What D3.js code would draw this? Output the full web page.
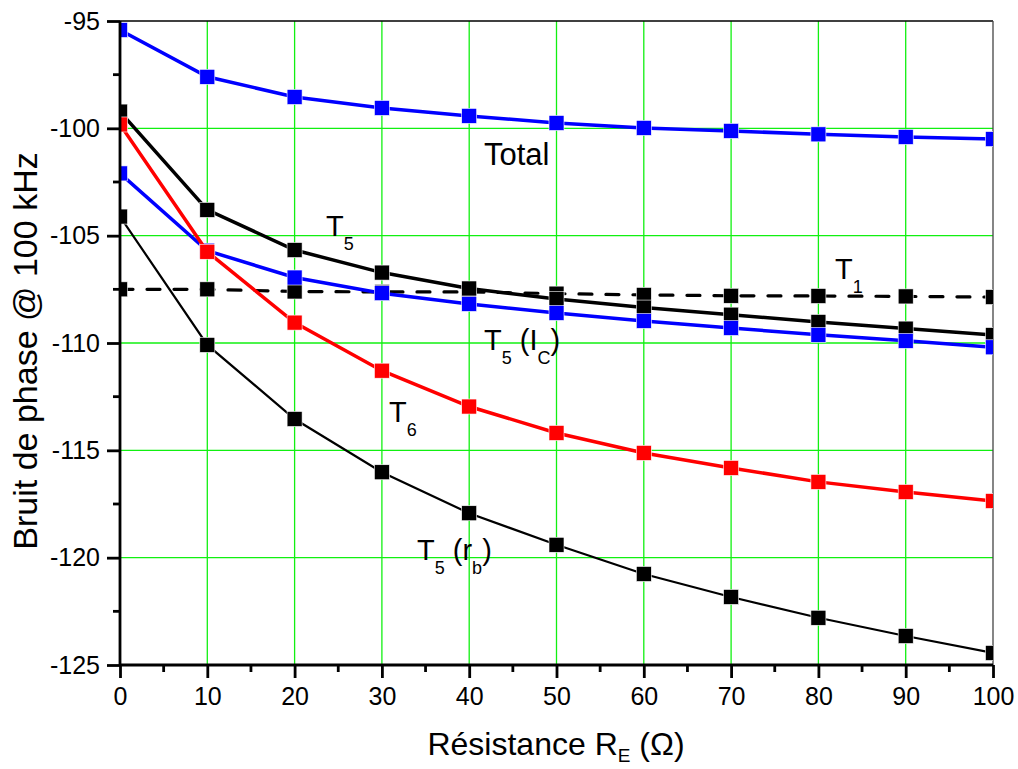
<!DOCTYPE html>
<html><head><meta charset="utf-8">
<script src="https://cdn.jsdelivr.net/npm/d3@7"></script>
<style>body{margin:0;background:#fff;} text{font-family:"Liberation Sans",Arial,sans-serif;}</style>
</head><body>
<svg id="c" width="1018" height="769"></svg>
<script>
const xs = [0,10,20,30,40,50,60,70,80,90,100];
const total = [-95.42,-97.6,-98.54,-99.05,-99.42,-99.75,-99.98,-100.12,-100.28,-100.4,-100.5];
const t5 = [-99.22,-103.8,-105.67,-106.72,-107.46,-107.95,-108.35,-108.68,-109.02,-109.33,-109.63];
const t5ic = [-102.1,-105.7,-106.95,-107.68,-108.18,-108.6,-108.97,-109.3,-109.62,-109.9,-110.2];
const t1 = [-107.5,-107.5,-107.6,-107.62,-107.62,-107.7,-107.76,-107.8,-107.81,-107.83,-107.86];
const t6 = [-99.82,-105.75,-109.05,-111.29,-112.96,-114.19,-115.12,-115.82,-116.47,-116.94,-117.36];
const t5rb = [-104.11,-110.09,-113.54,-116.02,-117.93,-119.4,-120.76,-121.83,-122.8,-123.65,-124.44];
const xTicks = [0,10,20,30,40,50,60,70,80,90,100];
const yTicks = [-95,-100,-105,-110,-115,-120,-125];

const svg = d3.select("#c");
const L=120,R=993,T=21,B=665;
const x = d3.scaleLinear().domain([0,100]).range([L,R]);
const y = d3.scaleLinear().domain([-125,-95]).range([B,T]);
const GREEN = "#11f011";

// grid
svg.append("g").selectAll("line").data(xTicks.filter(d=>d>0&&d<100)).join("line")
  .attr("x1",d=>x(d)).attr("x2",d=>x(d)).attr("y1",T).attr("y2",B)
  .attr("stroke",GREEN).attr("stroke-width",1.3);
svg.append("g").selectAll("line").data(yTicks.filter(d=>d>-125&&d<-95)).join("line")
  .attr("y1",d=>y(d)).attr("y2",d=>y(d)).attr("x1",L).attr("x2",R)
  .attr("stroke",GREEN).attr("stroke-width",1.3);
// frame top/right
svg.append("line").attr("x1",L).attr("x2",R).attr("y1",T).attr("y2",T).attr("stroke","#000").attr("stroke-width",1.3);
svg.append("line").attr("x1",R).attr("x2",R).attr("y1",T).attr("y2",B).attr("stroke","#444").attr("stroke-width",1.3);

svg.append("clipPath").attr("id","clip").append("rect").attr("x",L).attr("y",T).attr("width",R-L).attr("height",B-T);
const plot = svg.append("g").attr("clip-path","url(#clip)");

const series = [
  {v:t1, c:"#000", w:3.2, dash:"13,14"},
  {v:t5rb, c:"#000", w:2.2},
  {v:t5, c:"#000", w:3.5},
  {v:t5ic, c:"#0000ff", w:3.5},
  {v:t6, c:"#ff0000", w:3.5},
  {v:total, c:"#0000ff", w:3.5},
];
const line = d3.line().x((d,i)=>x(xs[i])).y(d=>y(d));
const ms = 15;
series.forEach(s=>{
  plot.append("path").attr("d",line(s.v)).attr("fill","none").attr("stroke",s.c)
    .attr("stroke-width",s.w).attr("stroke-dasharray",s.dash||null).attr("stroke-linecap","round");
  plot.append("g").selectAll("rect").data(s.v).join("rect")
    .attr("x",(d,i)=>x(xs[i])-ms/2).attr("y",d=>y(d)-ms/2).attr("width",ms).attr("height",ms)
    .attr("fill",s.c).attr("stroke","#fff").attr("stroke-width",0.6);
});

// axes
const xa = svg.append("g").attr("transform",`translate(0,${B})`)
  .call(d3.axisBottom(x).tickValues(xTicks).tickSize(13).tickPadding(9).tickFormat(d3.format("d")));
const ya = svg.append("g").attr("transform",`translate(${L},0)`)
  .call(d3.axisLeft(y).tickValues(yTicks).tickSize(13).tickPadding(7).tickFormat(d=>d3.format("d")(d).replace("−","-")));
[xa,ya].forEach(a=>{
  a.select(".domain").attr("stroke-width",2.8);
  a.selectAll(".tick line").attr("stroke-width",2.8);
  a.selectAll("text").attr("font-size",25).attr("fill","#000").attr("font-family","Liberation Sans, Arial, sans-serif");
});
xa.select(".domain").attr("d",`M${L},0H${R}`);
ya.select(".domain").attr("d",`M0,${B}V${T}`);
// minor ticks
svg.append("g").selectAll("line").data(d3.range(5,100,10)).join("line")
  .attr("x1",d=>x(d)).attr("x2",d=>x(d)).attr("y1",B).attr("y2",B+7).attr("stroke","#000").attr("stroke-width",2.8);
svg.append("g").selectAll("line").data(d3.range(-122.5,-95,5)).join("line")
  .attr("y1",d=>y(d)).attr("y2",d=>y(d)).attr("x1",L).attr("x2",L-7).attr("stroke","#000").attr("stroke-width",2.8);

// axis titles
svg.append("text").attr("transform","translate(37,351) rotate(-90)").attr("text-anchor","middle")
  .attr("font-size",34).text("Bruit de phase @ 100 kHz");
const xt = svg.append("text").attr("x",556).attr("y",755).attr("text-anchor","middle").attr("font-size",32);
xt.append("tspan").text("Résistance R");
xt.append("tspan").attr("font-size",19).attr("dy",7).text("E");
xt.append("tspan").attr("dy",-7).text(" (Ω)");

// labels
function lab(px,py,size,main,sub,rest,sub2,rest2){
  const t = svg.append("text").attr("x",px).attr("y",py).attr("font-size",size);
  const ss = 18, dd = 14;
  t.append("tspan").text(main);
  if(sub){ t.append("tspan").attr("font-size",ss).attr("dy",dd).text(sub); }
  if(rest){ t.append("tspan").attr("dy",-dd).text(rest); }
  if(sub2){ t.append("tspan").attr("font-size",ss).attr("dy",dd).text(sub2); }
  if(rest2){ t.append("tspan").attr("dy",-dd).text(rest2); }
}
lab(484,165,31,"Total");
lab(326,236,29,"T","5");
lab(835,279,29,"T","1");
lab(484,350,29,"T","5"," (I","C",")");
lab(389,422,29,"T","6");
lab(417,560,29,"T","5"," (r","b",")");
</script>
</body></html>
